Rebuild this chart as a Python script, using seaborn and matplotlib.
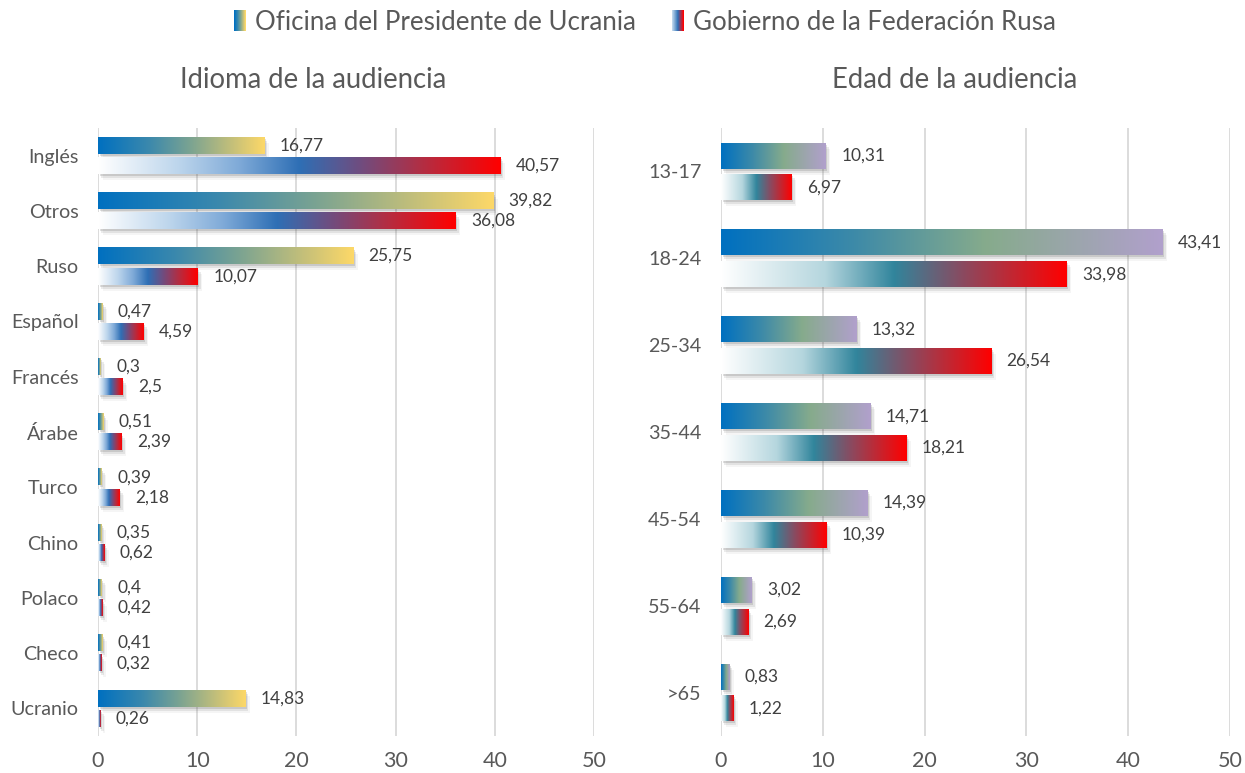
import numpy as np
import pandas as pd
import matplotlib
matplotlib.use('Agg')
import matplotlib.pyplot as plt
import matplotlib.transforms as mtransforms
from matplotlib.colors import LinearSegmentedColormap
from matplotlib.patches import Rectangle
from matplotlib.legend_handler import HandlerBase
import seaborn as sns

# datos
series = ['Oficina del Presidente de Ucrania', 'Gobierno de la Federación Rusa']

idiomas = ['Inglés', 'Otros', 'Ruso', 'Español', 'Francés', 'Árabe', 'Turco',
           'Chino', 'Polaco', 'Checo', 'Ucranio']
ucr_idioma = [16.77, 39.82, 25.75, 0.47, 0.3, 0.51, 0.39, 0.35, 0.4, 0.41, 14.83]
rus_idioma = [40.57, 36.08, 10.07, 4.59, 2.5, 2.39, 2.18, 0.62, 0.42, 0.32, 0.26]

edades = ['13-17', '18-24', '25-34', '35-44', '45-54', '55-64', '>65']
ucr_edad = [10.31, 43.41, 13.32, 14.71, 14.39, 3.02, 0.83]
rus_edad = [6.97, 33.98, 26.54, 18.21, 10.39, 2.69, 1.22]

# degradados
cm_ucr_idioma = LinearSegmentedColormap.from_list(
    'ui', [(0, '#0070c0'), (0.3, '#3a88ad'), (0.55, '#7aa392'), (0.8, '#c3bf7a'), (1, '#fdd868')])
cm_rus_idioma = LinearSegmentedColormap.from_list(
    'ri', [(0, '#ffffff'), (0.2, '#bcd5ec'), (0.35, '#7faad8'), (0.5, '#2e6fb5'),
           (0.65, '#6f4d80'), (0.8, '#b02f45'), (1, '#ff0000')])
cm_ucr_edad = LinearSegmentedColormap.from_list(
    'ue', [(0, '#0070c0'), (0.3, '#3d8aa8'), (0.6, '#86ab8c'), (1, '#b1a0cc')])
cm_rus_edad = LinearSegmentedColormap.from_list(
    're', [(0, '#ffffff'), (0.3, '#b5d6de'), (0.5, '#31859c'),
           (0.7, '#8a4a60'), (1, '#ff0000')])

sns.set_style('white')
plt.rcParams['font.family'] = ['Lato', 'DejaVu Sans']

fig = plt.figure(figsize=(12.45, 7.73), dpi=100)
ax1 = fig.add_axes([98 / 1245, 1 - 736 / 773, 496 / 1245, 608 / 773])
ax2 = fig.add_axes([721 / 1245, 1 - 736 / 773, 509 / 1245, 608 / 773])

grad = np.linspace(0, 1, 256).reshape(1, -1)


def dibujar(ax, cats, ucr, rus, cmaps):
    df = pd.DataFrame({'cat': cats * 2,
                       'valor': ucr + rus,
                       'serie': [series[0]] * len(cats) + [series[1]] * len(cats)})
    sns.barplot(data=df, x='valor', y='cat', hue='serie', hue_order=series,
                orient='h', width=0.73, gap=0.18, ax=ax, legend=False,
                palette=['#0070c0', '#ff0000'])
    for cont, cmap, vals in zip(ax.containers, cmaps, [ucr, rus]):
        for bar in cont:
            x, y = bar.get_x(), bar.get_y()
            w, h = bar.get_width(), bar.get_height()
            # sombra
            for (dx, dy), a in zip([(1.5, -2), (3, -4), (4.5, -6)], [0.16, 0.1, 0.05]):
                tr = ax.transData + mtransforms.ScaledTranslation(dx / 100, dy / 100, fig.dpi_scale_trans)
                ax.add_patch(Rectangle((x, y), w, h, facecolor='#444444', edgecolor='none',
                                       alpha=a, transform=tr, zorder=2))
            ax.imshow(grad, extent=[x, x + w, y + h, y], aspect='auto', cmap=cmap,
                      interpolation='bilinear', zorder=3)
            bar.set_facecolor('none')
            bar.set_edgecolor('none')
        ax.bar_label(cont, labels=[str(v).replace('.', ',') for v in vals],
                     padding=11, fontsize=12.5, color='#404040')
    ax.set_xlim(0, 50)
    ax.set_ylim(len(cats) - 0.5, -0.5)
    ax.set_xticks(range(0, 51, 10))
    ax.set_xlabel('')
    ax.set_ylabel('')
    ax.set_axisbelow(True)
    ax.grid(axis='x', color='#d9d9d9', linewidth=1.3)
    ax.grid(axis='y', visible=False)
    sns.despine(ax=ax, left=True, bottom=True)
    ax.tick_params(axis='x', length=0, pad=11, labelsize=15.5, labelcolor='#595959')
    ax.tick_params(axis='y', length=0, pad=14, labelsize=14.2, labelcolor='#595959')


dibujar(ax1, idiomas, ucr_idioma, rus_idioma, [cm_ucr_idioma, cm_rus_idioma])
dibujar(ax2, edades, ucr_edad, rus_edad, [cm_ucr_edad, cm_rus_edad])

fig.text(313 / 1245, 1 - 80 / 773, 'Idioma de la audiencia', ha='center', va='center',
         fontsize=19.8, color='#595959')
fig.text(955 / 1245, 1 - 80 / 773, 'Edad de la audiencia', ha='center', va='center',
         fontsize=19.8, color='#595959')


class Degradado(HandlerBase):
    def __init__(self, cmap):
        super().__init__()
        self.cmap = cmap

    def create_artists(self, legend, orig_handle, xdescent, ydescent, width, height, fontsize, trans):
        n = 12
        arts = []
        for i in range(n):
            arts.append(Rectangle((-xdescent + width * i / n, -ydescent), width / n * 1.05, height,
                                  facecolor=self.cmap(i / (n - 1)), edgecolor='none', transform=trans))
        return arts


h1 = Rectangle((0, 0), 1, 1)
h2 = Rectangle((0, 0), 1, 1)
cm_ley_rus = LinearSegmentedColormap.from_list('lr', ['#bcd5ec', '#2e6fb5', '#ff0000'])
fig.legend([h1, h2], series, handler_map={h1: Degradado(cm_ucr_idioma), h2: Degradado(cm_ley_rus)},
           loc='center', bbox_to_anchor=(645 / 1245, 1 - 22 / 773), ncol=2, frameon=False,
           fontsize=18.6, handlelength=0.45, handleheight=0.9, handletextpad=0.35,
           columnspacing=1.4, labelcolor='#595959')

fig.savefig('out.png', dpi=100)
